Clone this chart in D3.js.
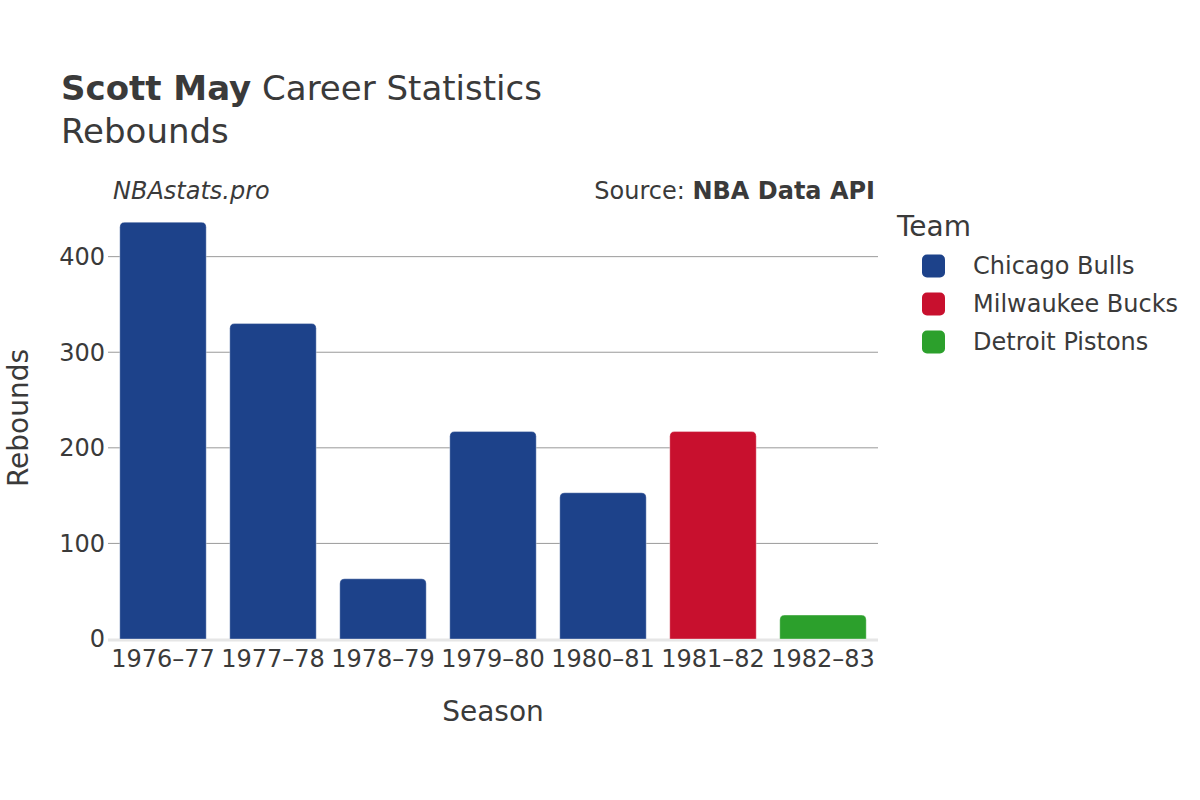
<!DOCTYPE html>
<html>
<head>
<meta charset="utf-8">
<script src="https://cdn.jsdelivr.net/npm/d3@7"></script>
<style>
  body { margin: 0; background: #fff; }
  svg { font-family: "DejaVu Sans", sans-serif; }
</style>
</head>
<body>
<div id="chart"></div>
<script>
  var seasons = ["1976\u201377", "1977\u201378", "1978\u201379", "1979\u201380", "1980\u201381", "1981\u201382", "1982\u201383"];
  var rebounds = [436, 330, 63, 217, 153, 217, 25];
  var teamOf = ["Chicago Bulls", "Chicago Bulls", "Chicago Bulls", "Chicago Bulls", "Chicago Bulls", "Milwaukee Bucks", "Detroit Pistons"];
  var teams = ["Chicago Bulls", "Milwaukee Bucks", "Detroit Pistons"];
  var teamColors = ["#1d428a", "#c8102e", "#2ca02c"];
  var yTicks = [0, 100, 200, 300, 400];

  var width = 1200, height = 800;
  var textCol = "#3a3a3a";

  var svg = d3.select("#chart").append("svg")
    .attr("width", width)
    .attr("height", height);

  var color = d3.scaleOrdinal().domain(teams).range(teamColors);

  var x = d3.scaleBand()
    .domain(seasons)
    .range([108, 878])
    .paddingInner(0.214)
    .paddingOuter(0.107);

  var y = d3.scaleLinear()
    .domain([0, 460])
    .range([639, 199.3]);

  // gridlines
  svg.append("g").selectAll("line")
    .data(yTicks.filter(function(d) { return d > 0; }))
    .enter().append("line")
    .attr("x1", 108).attr("x2", 878)
    .attr("y1", function(d) { return y(d); })
    .attr("y2", function(d) { return y(d); })
    .attr("stroke", "#9a9a9a")
    .attr("stroke-width", 1);

  // zero line
  svg.append("line")
    .attr("x1", 108).attr("x2", 878)
    .attr("y1", y(0) + 1).attr("y2", y(0) + 1)
    .attr("stroke", "#e6e6e6")
    .attr("stroke-width", 3);

  // y tick labels
  svg.append("g").selectAll("text")
    .data(yTicks)
    .enter().append("text")
    .attr("x", 105)
    .attr("y", function(d) { return y(d); })
    .attr("dy", "0.35em")
    .attr("text-anchor", "end")
    .style("font-size", "24px")
    .attr("fill", textCol)
    .text(function(d) { return d; });

  // bars, rounded top only
  var r = 5;
  function barPath(d, i) {
    var x0 = x(seasons[i]), w = x.bandwidth();
    var top = y(d), bot = y(0);
    var rr = Math.min(r, (bot - top) / 2);
    return "M" + x0 + "," + bot +
      "V" + (top + rr) +
      "Q" + x0 + "," + top + " " + (x0 + rr) + "," + top +
      "H" + (x0 + w - rr) +
      "Q" + (x0 + w) + "," + top + " " + (x0 + w) + "," + (top + rr) +
      "V" + bot + "Z";
  }

  svg.append("g").selectAll("path")
    .data(rebounds)
    .enter().append("path")
    .attr("d", barPath)
    .attr("fill", function(d, i) { return color(teamOf[i]); })
    .attr("stroke", "rgba(255,255,255,0.35)")
    .attr("stroke-width", 1);

  // x tick labels
  svg.append("g").selectAll("text")
    .data(seasons)
    .enter().append("text")
    .attr("x", function(d) { return x(d) + x.bandwidth() / 2; })
    .attr("y", 667)
    .attr("text-anchor", "middle")
    .style("font-size", "24px")
    .attr("fill", textCol)
    .text(function(d) { return d; });

  // axis titles
  svg.append("text")
    .attr("x", 493).attr("y", 721)
    .attr("text-anchor", "middle")
    .style("font-size", "28px")
    .attr("fill", textCol)
    .text("Season");

  svg.append("text")
    .attr("transform", "translate(28,418) rotate(-90)")
    .attr("text-anchor", "middle")
    .style("font-size", "28px")
    .attr("fill", textCol)
    .text("Rebounds");

  // title
  var title = svg.append("text")
    .attr("x", 61).attr("y", 100)
    .style("font-size", "34px")
    .attr("fill", textCol);
  title.append("tspan").style("font-weight", "bold").text("Scott May");
  title.append("tspan").text(" Career Statistics");

  svg.append("text")
    .attr("x", 61).attr("y", 143)
    .style("font-size", "34px")
    .attr("fill", textCol)
    .text("Rebounds");

  svg.append("text")
    .attr("x", 113).attr("y", 199)
    .style("font-size", "24px")
    .style("font-style", "italic")
    .attr("fill", textCol)
    .text("NBAstats.pro");

  var src = svg.append("text")
    .attr("x", 875).attr("y", 199)
    .attr("text-anchor", "end")
    .style("font-size", "24px")
    .attr("fill", textCol);
  src.append("tspan").text("Source: ");
  src.append("tspan").style("font-weight", "bold").text("NBA Data API");

  // legend
  svg.append("text")
    .attr("x", 897).attr("y", 236)
    .style("font-size", "28px")
    .attr("fill", textCol)
    .text("Team");

  var leg = svg.append("g").selectAll("g")
    .data(teams)
    .enter().append("g")
    .attr("transform", function(d, i) { return "translate(0," + (266 + i * 38) + ")"; });

  leg.append("rect")
    .attr("x", 922).attr("y", -11.5)
    .attr("width", 23).attr("height", 23)
    .attr("rx", 5)
    .attr("fill", function(d) { return color(d); });

  leg.append("text")
    .attr("x", 973)
    .attr("dy", "0.35em")
    .style("font-size", "24px")
    .attr("fill", textCol)
    .text(function(d) { return d; });
</script>
</body>
</html>
